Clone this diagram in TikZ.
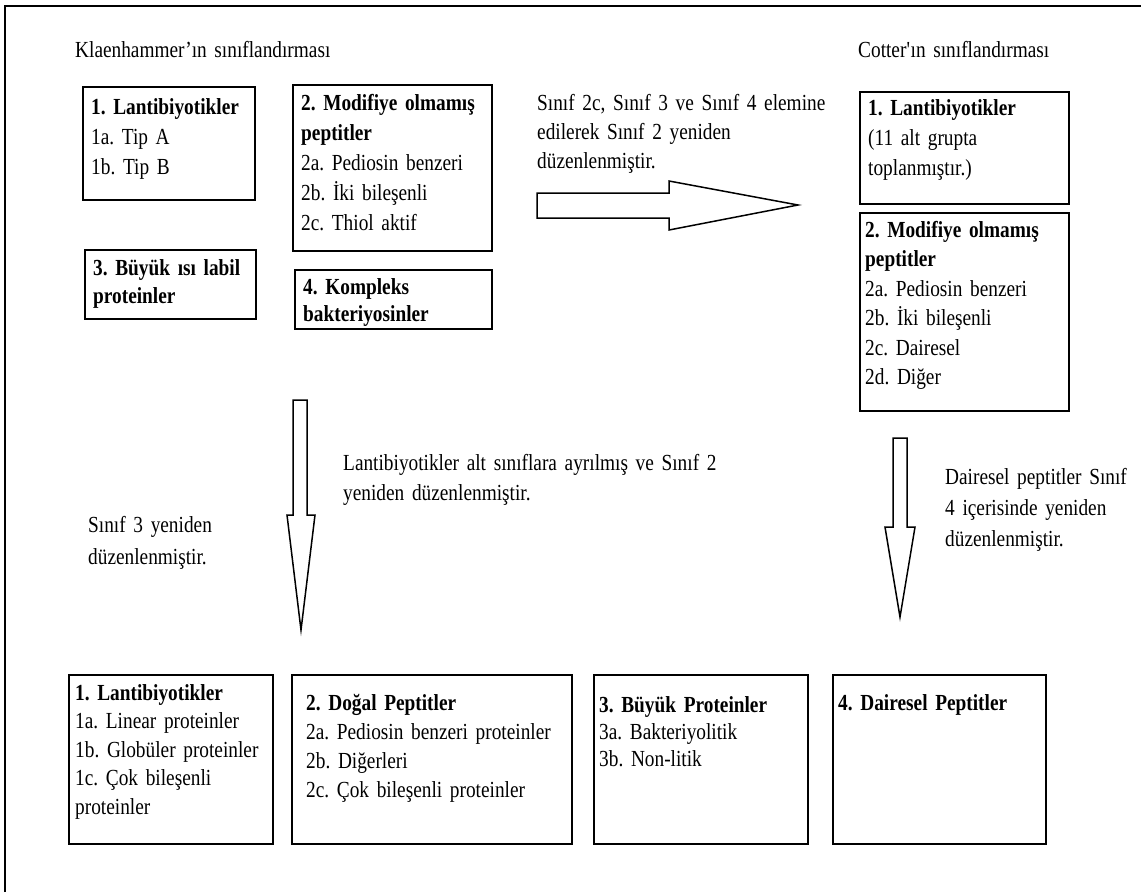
\documentclass[tikz,border=0pt]{standalone}
\usepackage{fontspec}
\setmainfont{Liberation Serif}[FakeStretch=0.84, WordSpace=0.75]
\usetikzlibrary{positioning}
\frenchspacing

\tikzset{
  kutu/.style={draw, line width=1.6pt, anchor=north west, inner sep=0pt},
  yazi/.style={anchor=base west, inner sep=0pt, align=left, text width=#1,
    font=\fontsize{23}{30}\selectfont},
  yazi/.default=250pt,
  blok/.style={draw, line width=1.5pt, fill=white, line join=miter}
}

\begin{document}
\begin{tikzpicture}[x=1pt, y=-1pt]
  \useasboundingbox (0,0) rectangle (1141,892);
  \draw[line width=2.5pt] (5,892) -- (5,6) -- (1141,6);

  % basliklar
  \node[yazi=300pt] (kbaslik) at (75,57) {Klaenhammer’ın sınıflandırması};
  \node[yazi=280pt] (cbaslik) at (858,57) {Cotter\textquotesingle ın sınıflandırması};

  % Klaenhammer
  \node[kutu, minimum width=172pt, minimum height=113pt] (k1) at (82,86) {};
  \node[yazi] (k1y) at ([xshift=9pt,yshift=-28pt]k1.north west)
    {\textbf{1. Lantibiyotikler}\\1a. Tip A\\1b. Tip B};
  \node[kutu, minimum width=199pt, minimum height=166pt] (k2) at (292,84) {};
  \node[yazi] (k2y) at ([xshift=9pt,yshift=-26pt]k2.north west)
    {\textbf{2. Modifiye olmamış}\\\textbf{peptitler}\\2a. Pediosin benzeri\\2b. İki bileşenli\\2c. Thiol aktif};
  \node[kutu, minimum width=171pt, minimum height=69pt] (k3) at (84,249) {};
  \node[yazi, font=\fontsize{23}{28}\selectfont] (k3y) at ([xshift=9pt,yshift=-26pt]k3.north west)
    {\textbf{3. Büyük ısı labil}\\\textbf{proteinler}};
  \node[kutu, minimum width=197pt, minimum height=59pt] (k4) at (294,269) {};
  \node[yazi, font=\fontsize{23}{27}\selectfont] (k4y) at ([xshift=9pt,yshift=-25pt]k4.north west)
    {\textbf{4. Kompleks}\\\textbf{bakteriyosinler}};

  % Cotter
  \node[kutu, minimum width=209pt, minimum height=112pt] (c1) at (859,91) {};
  \node[yazi] (c1y) at ([xshift=9pt,yshift=-24pt]c1.north west)
    {\textbf{1. Lantibiyotikler}\\(11 alt grupta\\toplanmıştır.)};
  \node[kutu, minimum width=209pt, minimum height=198pt] (c2) at (859,212) {};
  \node[yazi, font=\fontsize{23}{29.5}\selectfont] (c2y) at ([xshift=6pt,yshift=-25pt]c2.north west)
    {\textbf{2. Modifiye olmamış}\\\textbf{peptitler}\\2a. Pediosin benzeri\\2b. İki bileşenli\\2c. Dairesel\\2d. Diğer};

  % son siniflandirma
  \node[kutu, minimum width=204pt, minimum height=169pt] (b1) at (68,674) {};
  \node[yazi, font=\fontsize{23}{28.5}\selectfont] (b1y) at ([xshift=7pt,yshift=-26pt]b1.north west)
    {\textbf{1. Lantibiyotikler}\\1a. Linear proteinler\\1b. Globüler proteinler\\1c. Çok bileşenli\\proteinler};
  \node[kutu, minimum width=280pt, minimum height=169pt] (b2) at (291,674) {};
  \node[yazi=270pt, font=\fontsize{23}{29}\selectfont] (b2y) at ([xshift=15pt,yshift=-36pt]b2.north west)
    {\textbf{2. Doğal Peptitler}\\2a. Pediosin benzeri proteinler\\2b. Diğerleri\\2c. Çok bileşenli proteinler};
  \node[kutu, minimum width=214pt, minimum height=169pt] (b3) at (593,674) {};
  \node[yazi, font=\fontsize{23}{27}\selectfont] (b3y) at ([xshift=6pt,yshift=-38pt]b3.north west)
    {\textbf{3. Büyük Proteinler}\\3a. Bakteriyolitik\\3b. Non-litik};
  \node[kutu, minimum width=213pt, minimum height=169pt] (b4) at (832,674) {};
  \node[yazi] (b4y) at ([xshift=6pt,yshift=-36pt]b4.north west)
    {\textbf{4. Dairesel Peptitler}};

  % oklar
  \draw[blok] (537,193) -- (669,193) -- (669,181) -- (798,205) -- (669,230)
    -- (669,218) -- (537,218) -- cycle;
  \draw[blok] (293,400) -- (307,400) -- (307,515) -- (315,515) -- (301,630)
    -- (287,515) -- (293,515) -- cycle;
  \draw[blok] (893,438) -- (907,438) -- (907,527) -- (915,527) -- (900,617)
    -- (885,527) -- (893,527) -- cycle;

  % aciklamalar
  \node[yazi=300pt, font=\fontsize{23}{29}\selectfont] (ok1) at (537,110)
    {Sınıf 2c, Sınıf 3 ve Sınıf 4 elemine\\edilerek Sınıf 2 yeniden\\düzenlenmiştir.};
  \node[yazi=420pt] (ok2) at (343,470)
    {Lantibiyotikler alt sınıflara ayrılmış ve Sınıf 2\\yeniden düzenlenmiştir.};
  \node[yazi=200pt, font=\fontsize{23}{32}\selectfont] (ok3) at (88,532)
    {Sınıf 3 yeniden\\düzenlenmiştir.};
  \node[yazi=195pt, font=\fontsize{23}{31}\selectfont] (ok4) at (945,484)
    {Dairesel peptitler Sınıf\\4 içerisinde yeniden\\düzenlenmiştir.};
\end{tikzpicture}
\end{document}
